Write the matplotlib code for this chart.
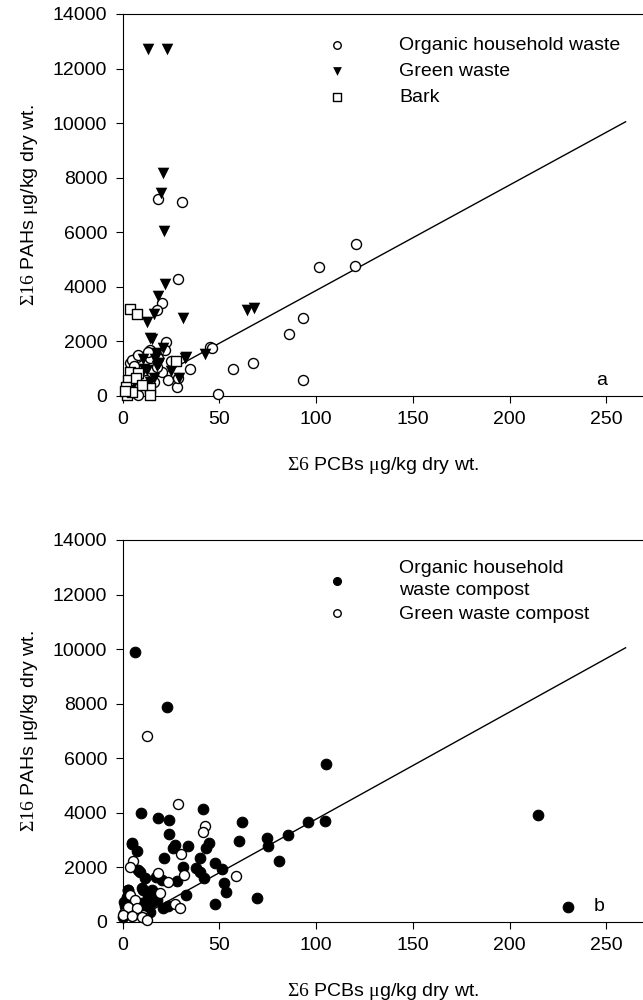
import numpy as np
import matplotlib.pyplot as plt

plt.rcParams['font.family'] = ['Liberation Sans', 'DejaVu Sans']
plt.rcParams['mathtext.fontset'] = 'custom'
plt.rcParams['mathtext.rm'] = 'Liberation Serif'
plt.rcParams['mathtext.it'] = 'Liberation Serif'

# panel a: raw materials
ohw_x = [120.7, 101.6, 120.2, 93.3, 86.1, 45.2, 46, 67.4, 57, 93.3, 49.4, 18.4, 30.6, 28.5, 20.4,
         17.8, 22.6, 22, 14.3, 7.6, 14.3, 4, 35, 20.4, 23.5, 28, 4, 4.6, 7.7, 17.9, 13.3, 18.4, 8,
         28.6, 3, 10, 12, 6, 2, 25, 16]
ohw_y = [5570, 4730, 4760, 2860, 2270, 1800, 1750, 1210, 990, 590, 70, 7220, 7110, 4290, 3400,
         3150, 1980, 1690, 1690, 1430, 1390, 1210, 990, 880, 590, 330, 110, 1320, 1500, 1060, 1610,
         1390, 20, 660, 500, 800, 600, 1100, 200, 1300, 500]

gw_x = [13.3, 23, 21, 20, 21.4, 22, 18.4, 16, 12.7, 31, 15.3, 21, 17.8, 42.6, 33, 64.4, 68, 14,
        16.5, 12.8, 16, 5.6, 10.7, 19, 29, 8, 11, 6, 14, 25, 3, 18, 32.4]
gw_y = [12700, 12700, 8170, 7440, 6050, 4100, 3660, 3000, 2710, 2860, 2090, 1760, 1575, 1540,
        1430, 3150, 3220, 2120, 1350, 950, 660, 400, 1360, 1200, 650, 800, 1000, 600, 500, 900,
        300, 1100, 1390]

bark_x = [3.8, 7.5, 27.5, 4, 8, 3, 1.5, 14.3, 7, 2.5, 14, 10, 5, 1]
bark_y = [3190, 3000, 1280, 880, 840, 590, 330, 290, 660, 40, 50, 400, 150, 200]

fit_a_x = [0, 260]
fit_a_y = [0, 10050]

# panel b: composts
ohc_x = [6.6, 23, 9.7, 18.4, 24, 41.3, 61.8, 95.9, 104.7, 105.2, 214.9, 230.4, 24, 4.6, 7.6, 27,
         26, 34, 44.4, 43, 60.3, 74.7, 75.2, 85.6, 21.4, 39.8, 80.9, 48, 51.5, 8.2, 31, 38, 40, 42,
         17, 20.4, 28, 11.7, 52.5, 53.6, 2.6, 10, 15, 32.7, 69.6, 48, 21, 23.5, 0, 5, 9, 3, 2.5,
         0.5, 10.7, 13.3, 10.2, 12.8, 15.3, 1, 6, 14, 18]
ohc_y = [9890, 7880, 3990, 3810, 3740, 4140, 3660, 3660, 3700, 5790, 3920, 550, 3220, 2890, 2600,
         2820, 2710, 2780, 2890, 2710, 2970, 3080, 2780, 3190, 2350, 2350, 2240, 2160, 1940, 1900,
         2020, 1980, 1830, 1610, 1650, 1540, 1500, 1610, 1430, 1100, 1170, 1250, 1170, 990, 880,
         660, 510, 590, 180, 2860, 1830, 1170, 920, 730, 1170, 920, 700, 550, 730, 600, 400, 350,
         800]

gwc_x = [12.7, 28.6, 42.8, 41.3, 5.6, 3.6, 30, 18.4, 31.6, 23.5, 58.7, 19.4, 27, 29.6, 0.6, 5.6,
         10.7, 11.7, 4, 6.6, 3, 7.6, 0, 5, 10, 12.8]
gwc_y = [6820, 4320, 3520, 3300, 2240, 2020, 2490, 1800, 1720, 1470, 1690, 1060, 660, 510, 330,
         260, 260, 150, 990, 810, 550, 510, 260, 220, 180, 70]

fit_b_x = [4, 260]
fit_b_y = [0, 10050]

xticks = [0, 50, 100, 150, 200, 250]
yticks = [0, 2000, 4000, 6000, 8000, 10000, 12000, 14000]

xlab = r'$\mathrm{\Sigma6}$ PCBs $\mathrm{\mu}$g/kg dry wt.'
ylab = r'$\mathrm{\Sigma16}$ PAHs $\mathrm{\mu}$g/kg dry wt.'

fig = plt.figure(figsize=(6.43, 10), dpi=100)
ax1 = fig.add_axes([0.1907, 0.604, 0.8093, 0.382])
ax2 = fig.add_axes([0.1907, 0.078, 0.8093, 0.382])

fs = 14
for ax in (ax1, ax2):
    ax.set_xlim(0, 269)
    ax.set_ylim(0, 14000)
    ax.set_xticks(xticks)
    ax.set_yticks(yticks)
    ax.spines['right'].set_visible(False)
    ax.tick_params(direction='out', length=5, labelsize=fs, pad=6)
    ax.set_xlabel(xlab, fontsize=fs, labelpad=19)
    ax.set_ylabel(ylab, fontsize=fs, labelpad=9)

ax1.plot(fit_a_x, fit_a_y, color='black', lw=1, zorder=2)
ax1.scatter(ohw_x, ohw_y, s=52, marker='o', facecolor='white', edgecolor='black', lw=1,
            label='Organic household waste', zorder=3, clip_on=False)
ax1.scatter(gw_x, gw_y, s=70, marker='v', color='black', lw=0,
            label='Green waste', zorder=4, clip_on=False)
ax1.scatter(bark_x, bark_y, s=52, marker='s', facecolor='white', edgecolor='black', lw=1,
            label='Bark', zorder=5, clip_on=False)
ax1.legend(loc='upper left', bbox_to_anchor=(0.375, 0.942), frameon=False, fontsize=fs,
           markerscale=0.75, handlelength=2.0, handletextpad=2.2, labelspacing=0.43,
           borderpad=0, borderaxespad=0)
ax1.text(0.91, 0.03, 'a', transform=ax1.transAxes, fontsize=fs)

ax2.plot(fit_b_x, fit_b_y, color='black', lw=1, zorder=2)
ax2.scatter(ohc_x, ohc_y, s=58, marker='o', color='black', lw=0.8, edgecolor='black',
            label='Organic household\nwaste compost', zorder=3, clip_on=False)
ax2.scatter(gwc_x, gwc_y, s=52, marker='o', facecolor='white', edgecolor='black', lw=1,
            label='Green waste compost', zorder=4, clip_on=False)
leg2 = ax2.legend(loc='upper left', bbox_to_anchor=(0.375, 0.948), frameon=False, fontsize=fs,
                  markerscale=0.75, handlelength=2.0, handletextpad=2.2, labelspacing=0.3,
                  borderpad=0, borderaxespad=0)
leg2.get_texts()[0].set_linespacing(1.4)
ax2.text(0.905, 0.03, 'b', transform=ax2.transAxes, fontsize=fs)

plt.savefig('out.png', dpi=100)
